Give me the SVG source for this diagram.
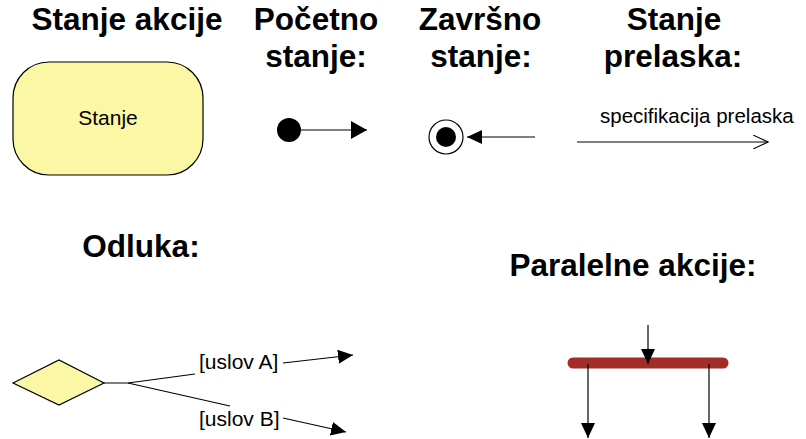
<svg xmlns="http://www.w3.org/2000/svg" width="806" height="439" viewBox="0 0 806 439">
<style>
.title{font-family:"Liberation Sans",Arial,sans-serif;font-weight:bold;font-size:31.5px;fill:#000;text-anchor:middle}
.lbl{font-family:"Liberation Sans",Arial,sans-serif;font-size:20.5px;fill:#000}
.ln{stroke:#000;stroke-width:1.2;fill:none}
.yel{fill:#FBF7A4;stroke:#000;stroke-width:1.2}
</style>
<defs>
<marker id="fa" viewBox="0 0 16 18" refX="16" refY="9" markerWidth="16" markerHeight="18" markerUnits="userSpaceOnUse" orient="auto">
<path d="M0,0 L16,9 L0,18 Z" fill="#000"/>
</marker>
<marker id="fs" viewBox="0 0 15 14" refX="15" refY="7" markerWidth="15" markerHeight="14" markerUnits="userSpaceOnUse" orient="auto">
<path d="M0,0 L15,7 L0,14 Z" fill="#000"/>
</marker>
<marker id="oa" viewBox="0 0 16 14" refX="15" refY="7" markerWidth="16" markerHeight="14" markerUnits="userSpaceOnUse" orient="auto">
<path d="M0,0 L15,7 L0,14" fill="none" stroke="#000" stroke-width="1.1"/>
</marker>
</defs>
<g id="titles">
<text class="title" x="127" y="30">Stanje akcije</text>
<text class="title" x="316" y="30">Početno</text>
<text class="title" x="316" y="67">stanje:</text>
<text class="title" x="480" y="30">Završno</text>
<text class="title" x="481" y="67">stanje:</text>
<text class="title" x="674" y="30">Stanje</text>
<text class="title" x="673" y="67">prelaska:</text>
<text class="title" x="141" y="257">Odluka:</text>
<text class="title" x="633" y="276">Paralelne akcije:</text>
</g>
<g id="action-state">
<rect class="yel" x="13" y="62" width="190" height="113" rx="36" ry="36"/>
<text class="lbl" x="108" y="125" text-anchor="middle" style="font-size:21px">Stanje</text>
</g>
<g id="initial-state">
<circle cx="289" cy="130" r="12" fill="#000"/>
</g>
<g id="final-state">
<circle cx="446" cy="137" r="17" fill="#fff" stroke="#000" stroke-width="1.2"/>
<circle cx="446" cy="137" r="10" fill="#000"/>
</g>
<g id="decision">
<polygon class="yel" points="13,383 59,360 104,383 59,405"/>
</g>
<g id="fork-bar">
<line x1="573" y1="363" x2="723" y2="363" stroke="#A42C28" stroke-width="11" stroke-linecap="round"/>
</g>
<g id="connectors">
<line class="ln" x1="301" y1="130" x2="367" y2="130" marker-end="url(#fa)"/>
<line class="ln" x1="535" y1="137" x2="467" y2="137" marker-end="url(#fs)"/>
<line class="ln" x1="577" y1="142" x2="768" y2="142" marker-end="url(#oa)"/>
<text class="lbl" x="600" y="123">specifikacija prelaska</text>
<polyline class="ln" points="104,383 128,383 195,374"/>
<line class="ln" x1="128" y1="383" x2="230" y2="406"/>
<text class="lbl" x="199" y="369" style="font-size:21px">[uslov A]</text>
<line class="ln" x1="283" y1="363" x2="353" y2="355" marker-end="url(#fs)"/>
<text class="lbl" x="199" y="426" style="font-size:21px">[uslov B]</text>
<line class="ln" x1="283" y1="418" x2="346" y2="432" marker-end="url(#fs)"/>
<line class="ln" x1="648" y1="325" x2="648" y2="364" marker-end="url(#fs)"/>
<line class="ln" x1="588" y1="364" x2="588" y2="438" marker-end="url(#fs)"/>
<line class="ln" x1="709" y1="364" x2="709" y2="438" marker-end="url(#fs)"/>
</g>
</svg>
